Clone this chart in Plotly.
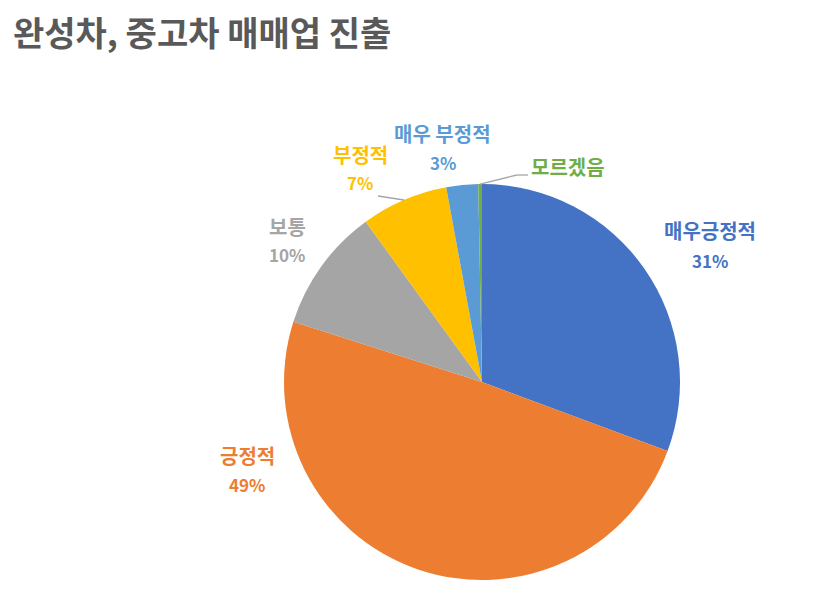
import math
import plotly.graph_objects as go

labels = ["매우긍정적", "긍정적", "보통", "부정적", "매우 부정적", "모르겠음"]
values = [30.7, 49.3, 10.1, 7.1, 2.6, 0.3]
show_pct = [True, True, True, True, True, False]
colors = ["#4472C4", "#ED7D31", "#A5A5A5", "#FFC000", "#5B9BD5", "#70AD47"]

W, H = 833, 607
off = 8  # page margin of the browser body
cx, cy, r = 482 - off, 382 - off, 198

# label centres in pixels (Excel's data-label placement)
label_pos = [(710, 231), (247, 455), (287, 226), (360, 154), (443, 133), (568, 167)]
pct_gap = 29
# leader lines: points from the label towards the slice, in pixels
leaders = {3: [(378, 196)], 5: [(528, 175), (517, 175)]}

fig = go.Figure(go.Pie(
    labels=labels,
    values=values,
    sort=False,
    direction="clockwise",
    rotation=0,
    marker=dict(colors=colors, line=dict(color="white", width=0)),
    textinfo="none",
    showlegend=False,
    domain=dict(x=[(cx - r) / W, (cx + r) / W], y=[1 - (cy + r) / H, 1 - (cy - r) / H]),
    hoverinfo="label+percent",
))

total = sum(values)
cum = 0
annotations = []
shapes = []
for i, (lab, v) in enumerate(zip(labels, values)):
    mid = (cum + v / 2) / total * 2 * math.pi
    cum += v
    lx, ly = label_pos[i][0] - off, label_pos[i][1] - off
    annotations.append(dict(
        text="<b>%s</b>" % lab, x=lx / W, y=1 - ly / H, xref="paper", yref="paper",
        showarrow=False, xanchor="center", yanchor="middle",
        font=dict(family="Noto Sans CJK KR", size=20, color=colors[i]),
    ))
    if show_pct[i]:
        annotations.append(dict(
            text="<b>%d%%</b>" % round(v / total * 100), x=lx / W, y=1 - (ly + pct_gap) / H,
            xref="paper", yref="paper", showarrow=False, xanchor="center", yanchor="middle",
            font=dict(family="Noto Sans CJK KR", size=17, color=colors[i]),
        ))
    if i in leaders:
        pts = [(px - off, py - off) for px, py in leaders[i]]
        pts.append((cx + r * math.sin(mid), cy - r * math.cos(mid)))
        for (x0, y0), (x1, y1) in zip(pts[:-1], pts[1:]):
            shapes.append(dict(
                type="line", xref="paper", yref="paper",
                x0=x0 / W, y0=1 - y0 / H, x1=x1 / W, y1=1 - y1 / H,
                line=dict(color="#A6A6A6", width=1.3),
            ))

fig.update_layout(
    width=W, height=H,
    margin=dict(l=0, r=0, t=0, b=0),
    paper_bgcolor="white",
    annotations=annotations,
    shapes=shapes,
    title=dict(
        text="<b>완성차, 중고차 매매업 진출</b>",
        font=dict(family="Noto Sans CJK KR", size=34, color="#595959"),
        x=5 / W, xanchor="left",
        y=1 - 26 / H, yanchor="middle", yref="container",
    ),
)

fig.write_html("out.html")
